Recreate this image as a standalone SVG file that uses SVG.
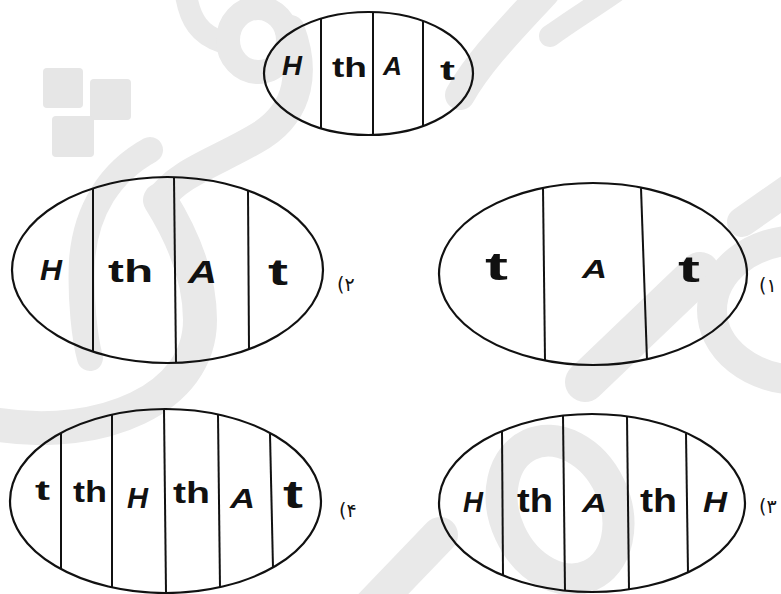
<svg xmlns="http://www.w3.org/2000/svg" width="781" height="594" viewBox="0 0 781 594">
<style>
.wm{fill:none;stroke:#e9e9e9;stroke-linecap:round}
.wmf{fill:#e6e6e6}
.ell{fill:none;stroke:#111;stroke-width:2.2}
.div{stroke:#111;stroke-width:2}
.lbl{font-family:"Liberation Sans",Arial,sans-serif;font-weight:bold;fill:#111}
.it{font-style:italic}
.num{font-family:"DejaVu Sans",sans-serif;font-size:19px;fill:#111}
</style>
<rect width="781" height="594" fill="#fff"/>
<g id="watermark">
<rect class="wmf" x="43" y="68" width="40" height="40" rx="4"/>
<rect class="wmf" x="90" y="79" width="41" height="41" rx="4"/>
<rect class="wmf" x="52" y="116" width="42" height="41" rx="4"/>
<path class="wm" stroke-width="22" d="M186 -5 C190 20 200 35 222 42"/>
<ellipse class="wm" stroke-width="24" cx="258" cy="40" rx="30" ry="32"/>
<path class="wm" stroke-width="30" d="M290 30 C305 70 300 110 262 135 C222 160 178 172 160 200"/>
<path class="wm" stroke-width="34" d="M160 200 C185 240 200 280 200 320 C200 400 100 440 0 425"/>
<path class="wm" stroke-width="26" d="M150 150 C110 172 86 210 82 260 C80 300 85 340 90 358"/>
<path class="wm" stroke-width="30" d="M460 95 C480 60 510 30 545 -8"/>
<path class="wm" stroke-width="22" d="M550 36 C572 20 592 8 615 -8"/>
<path class="wm" stroke-width="40" d="M585 382 L700 272"/>
<path class="wm" stroke-width="30" d="M742 222 L795 185"/>
<ellipse class="wm" stroke-width="30" cx="800" cy="310" rx="88" ry="70"/>
<ellipse class="wm" stroke-width="32" cx="560" cy="510" rx="55" ry="72" transform="rotate(-25 560 510)"/>
<path class="wm" stroke-width="36" d="M368 610 L440 535"/>
</g>
<g id="connectors"></g>
<g id="cell-top">
<ellipse class="ell" cx="368.5" cy="73.5" rx="104.5" ry="61.5"/>
<line class="div" x1="321" y1="18.7" x2="321" y2="128.3"/>
<line class="div" x1="373" y1="12.1" x2="373" y2="134.9"/>
<line class="div" x1="423" y1="21" x2="423" y2="126"/>
<text class="lbl it" x="282" y="75" font-size="28" textLength="20" lengthAdjust="spacingAndGlyphs">H</text>
<text class="lbl" x="332" y="77" font-size="27" textLength="35" lengthAdjust="spacingAndGlyphs">th</text>
<text class="lbl it" x="383" y="75" font-size="25" textLength="19" lengthAdjust="spacingAndGlyphs">A</text>
<text class="lbl" x="440" y="80" font-size="28" textLength="15" lengthAdjust="spacingAndGlyphs">t</text>
</g>
<g id="cell-2">
<ellipse class="ell" cx="167.5" cy="270" rx="155.5" ry="93"/>
<line class="div" x1="93" y1="188.4" x2="93" y2="351.6"/>
<line class="div" x1="174" y1="177.1" x2="176" y2="362.9"/>
<line class="div" x1="248" y1="190.4" x2="249" y2="349.6"/>
<text class="lbl it" x="40" y="280" font-size="30" textLength="22" lengthAdjust="spacingAndGlyphs">H</text>
<text class="lbl" x="108" y="282" font-size="32" textLength="45" lengthAdjust="spacingAndGlyphs">th</text>
<text class="lbl it" x="188" y="283" font-size="32" textLength="29" lengthAdjust="spacingAndGlyphs">A</text>
<text class="lbl" x="268" y="285" font-size="37" textLength="20" lengthAdjust="spacingAndGlyphs">t</text>
<text class="num" x="337" y="291">(۲</text>
</g>
<g id="cell-1">
<ellipse class="ell" cx="593" cy="274" rx="154" ry="91"/>
<line class="div" x1="543" y1="187.7" x2="545" y2="360.3"/>
<line class="div" x1="641" y1="188.1" x2="647" y2="359.9"/>
<text class="lbl" x="485" y="280" font-size="38" textLength="23" lengthAdjust="spacingAndGlyphs">t</text>
<text class="lbl it" x="582" y="278" font-size="25" textLength="25" lengthAdjust="spacingAndGlyphs">A</text>
<text class="lbl" x="678" y="282" font-size="37" textLength="22" lengthAdjust="spacingAndGlyphs">t</text>
<text class="num" x="759" y="292">(۱</text>
</g>
<g id="cell-4">
<ellipse class="ell" cx="165.5" cy="501" rx="155.5" ry="92"/>
<line class="div" x1="61" y1="432.9" x2="61" y2="569.1"/>
<line class="div" x1="112" y1="414.6" x2="112" y2="587.4"/>
<line class="div" x1="164" y1="409" x2="166" y2="593"/>
<line class="div" x1="218" y1="414.4" x2="220" y2="587.6"/>
<line class="div" x1="270" y1="434" x2="273" y2="568"/>
<text class="lbl" x="35" y="500" font-size="28" textLength="15" lengthAdjust="spacingAndGlyphs">t</text>
<text class="lbl" x="73" y="502" font-size="29" textLength="34" lengthAdjust="spacingAndGlyphs">th</text>
<text class="lbl it" x="127" y="508" font-size="29" textLength="21" lengthAdjust="spacingAndGlyphs">H</text>
<text class="lbl" x="173" y="503" font-size="29" textLength="37" lengthAdjust="spacingAndGlyphs">th</text>
<text class="lbl it" x="230" y="508" font-size="28" textLength="25" lengthAdjust="spacingAndGlyphs">A</text>
<text class="lbl" x="283" y="508" font-size="38" textLength="20" lengthAdjust="spacingAndGlyphs">t</text>
<text class="num" x="339" y="517">(۴</text>
</g>
<g id="cell-3">
<ellipse class="ell" cx="592" cy="503" rx="153" ry="89"/>
<line class="div" x1="502" y1="431" x2="503" y2="575"/>
<line class="div" x1="563" y1="415.6" x2="565" y2="590.4"/>
<line class="div" x1="627" y1="416.4" x2="629" y2="589.6"/>
<line class="div" x1="686" y1="433.2" x2="688" y2="572.8"/>
<text class="lbl it" x="463" y="512" font-size="30" textLength="20" lengthAdjust="spacingAndGlyphs">H</text>
<text class="lbl" x="517" y="512" font-size="34" textLength="36" lengthAdjust="spacingAndGlyphs">th</text>
<text class="lbl it" x="582" y="512" font-size="26" textLength="25" lengthAdjust="spacingAndGlyphs">A</text>
<text class="lbl" x="640" y="512" font-size="34" textLength="37" lengthAdjust="spacingAndGlyphs">th</text>
<text class="lbl it" x="703" y="512" font-size="30" textLength="24" lengthAdjust="spacingAndGlyphs">H</text>
<text class="num" x="759" y="513">(۳</text>
</g>
</svg>
